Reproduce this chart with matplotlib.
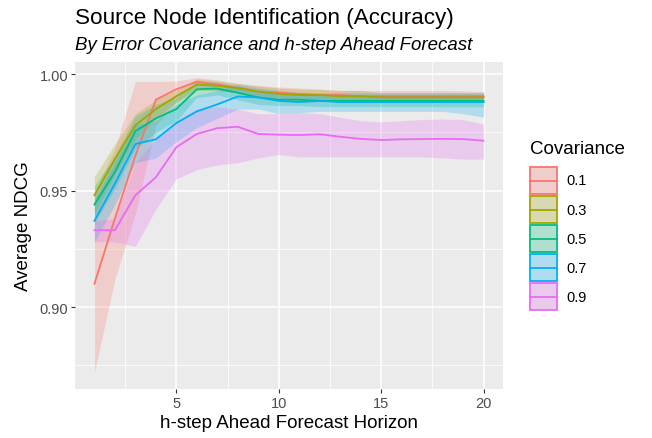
import numpy as np
import matplotlib
matplotlib.use('Agg')
from matplotlib import pyplot as plt
from matplotlib.patches import Rectangle
from matplotlib.lines import Line2D

plt.rcParams['font.family'] = ['Liberation Sans', 'DejaVu Sans']

h = list(range(1, 21))
covariance = ['0.1', '0.3', '0.5', '0.7', '0.9']
colors = ['#F8766D', '#A3A500', '#00BF7D', '#00B0F6', '#E76BF3']

mean_01 = [0.910, 0.938, 0.965, 0.989, 0.9935, 0.9967, 0.9955, 0.994, 0.9925, 0.992,
           0.9915, 0.991, 0.991, 0.9905, 0.9905, 0.9905, 0.9905, 0.9905, 0.9905, 0.9905]
low_01 = [0.872, 0.912, 0.940, 0.978, 0.988, 0.9945, 0.993, 0.992, 0.990, 0.9895,
          0.989, 0.989, 0.989, 0.9885, 0.9885, 0.9885, 0.9885, 0.9885, 0.9885, 0.9885]
up_01 = [0.949, 0.968, 0.9968, 0.9968, 0.997, 0.9985, 0.9975, 0.996, 0.995, 0.9945,
         0.994, 0.9935, 0.993, 0.993, 0.993, 0.993, 0.993, 0.993, 0.9928, 0.9925]

mean_03 = [0.948, 0.9635, 0.978, 0.985, 0.9905, 0.9955, 0.995, 0.994, 0.9925, 0.9915,
           0.991, 0.991, 0.9905, 0.9905, 0.990, 0.990, 0.990, 0.990, 0.990, 0.990]
low_03 = [0.940, 0.957, 0.972, 0.981, 0.988, 0.993, 0.993, 0.992, 0.990, 0.989,
          0.9885, 0.9885, 0.988, 0.988, 0.988, 0.988, 0.988, 0.988, 0.988, 0.988]
up_03 = [0.956, 0.970, 0.983, 0.989, 0.993, 0.998, 0.997, 0.996, 0.995, 0.994,
         0.9935, 0.9935, 0.993, 0.993, 0.992, 0.992, 0.992, 0.992, 0.992, 0.992]

mean_05 = [0.944, 0.958, 0.9755, 0.981, 0.985, 0.9935, 0.9938, 0.992, 0.990, 0.989,
           0.989, 0.9885, 0.9885, 0.9885, 0.9885, 0.9885, 0.9885, 0.9885, 0.9885, 0.9885]
low_05 = [0.936, 0.951, 0.968, 0.975, 0.980, 0.990, 0.991, 0.989, 0.987, 0.9865,
          0.9865, 0.986, 0.986, 0.986, 0.986, 0.986, 0.986, 0.986, 0.986, 0.986]
up_05 = [0.952, 0.965, 0.982, 0.987, 0.990, 0.997, 0.9965, 0.995, 0.993, 0.9915,
         0.9915, 0.991, 0.991, 0.991, 0.991, 0.991, 0.991, 0.991, 0.991, 0.991]

mean_07 = [0.937, 0.953, 0.970, 0.972, 0.979, 0.984, 0.987, 0.9904, 0.990, 0.9885,
           0.988, 0.9885, 0.988, 0.988, 0.988, 0.988, 0.988, 0.988, 0.988, 0.988]
low_07 = [0.928, 0.944, 0.962, 0.964, 0.971, 0.977, 0.981, 0.985, 0.985, 0.983,
          0.9835, 0.984, 0.984, 0.984, 0.984, 0.984, 0.984, 0.984, 0.983, 0.9815]
up_07 = [0.946, 0.962, 0.978, 0.980, 0.987, 0.991, 0.993, 0.9955, 0.994, 0.993,
         0.992, 0.992, 0.992, 0.992, 0.992, 0.992, 0.992, 0.992, 0.992, 0.992]

mean_09 = [0.933, 0.933, 0.948, 0.9557, 0.9686, 0.9743, 0.9768, 0.9774, 0.9743, 0.974,
           0.9738, 0.9742, 0.9731, 0.9722, 0.9717, 0.972, 0.9721, 0.9722, 0.9721, 0.9714]
low_09 = [0.928, 0.928, 0.926, 0.942, 0.955, 0.959, 0.961, 0.962, 0.964, 0.9655,
          0.9645, 0.9645, 0.9645, 0.9645, 0.9645, 0.9645, 0.9645, 0.964, 0.9635, 0.9635]
up_09 = [0.937, 0.938, 0.962, 0.972, 0.980, 0.985, 0.986, 0.985, 0.983, 0.983,
         0.9835, 0.983, 0.9815, 0.980, 0.9795, 0.980, 0.9805, 0.9807, 0.9805, 0.9785]

means = [mean_01, mean_03, mean_05, mean_07, mean_09]
lows = [low_01, low_03, low_05, low_07, low_09]
ups = [up_01, up_03, up_05, up_07, up_09]

fig = plt.figure(figsize=(6.52, 4.39), dpi=100)
ax = fig.add_axes([0.115, 0.1116, 0.6565, 0.7449])
ax.set_facecolor('#EBEBEB')

for m, lo, up, c in zip(means, lows, ups, colors):
    ax.fill_between(h, lo, up, color=c, alpha=0.25, lw=0, zorder=2)
for m, lo, up, c in zip(means, lows, ups, colors):
    ax.plot(h, m, color=c, lw=1.3, zorder=3)

ax.set_xlim(0.05, 20.95)
ax.set_ylim(0.8648, 1.0052)
ax.set_xticks([5, 10, 15, 20])
ax.set_xticks([2.5, 7.5, 12.5, 17.5], minor=True)
ax.set_yticks([0.90, 0.95, 1.00])
ax.set_yticks([0.875, 0.925, 0.975], minor=True)
ax.set_yticklabels(['0.90', '0.95', '1.00'])
ax.grid(which='major', color='white', lw=1.1, zorder=0)
ax.grid(which='minor', color='white', lw=0.55, zorder=0)
ax.set_axisbelow(True)
for s in ax.spines.values():
    s.set_visible(False)
ax.tick_params(which='major', length=3, color='#333333', labelcolor='#4D4D4D', labelsize=10.5, pad=2)
ax.tick_params(which='minor', length=0)

ax.set_xlabel('h-step Ahead Forecast Horizon', fontsize=13.5, labelpad=3)
ax.set_ylabel('Average NDCG', fontsize=13.5, labelpad=5)

fig.text(0.115, 0.958, 'Source Node Identification (Accuracy)', fontsize=16.2, va='center', ha='left')
fig.text(0.115, 0.897, 'By Error Covariance and h-step Ahead Forecast', fontsize=13.4,
         style='italic', va='center', ha='left')

# legend
fig.text(530 / 652, 1 - 150 / 439, 'Covariance', fontsize=13.5, va='center', ha='left')
for i, (lab, c) in enumerate(zip(covariance, colors)):
    yc = 181.5 + i * 29.1
    x0, y0 = 530 / 652, 1 - (yc + 13.5) / 439
    w, hh = 27 / 652, 27 / 439
    fig.patches.append(Rectangle((x0, y0), w, hh, transform=fig.transFigure,
                                 facecolor='#EBEBEB', edgecolor='none'))
    fig.patches.append(Rectangle((x0, y0), w, hh, transform=fig.transFigure,
                                 facecolor=c, alpha=0.25, edgecolor='none'))
    fig.patches.append(Rectangle((x0, y0), w, hh, transform=fig.transFigure,
                                 facecolor='none', edgecolor=c, lw=1.3))
    fig.lines.append(Line2D([x0, x0 + w], [1 - yc / 439, 1 - yc / 439],
                            transform=fig.transFigure, color=c, lw=1.3))
    fig.text(566 / 652, 1 - yc / 439, lab, fontsize=10.5, va='center', ha='left')

fig.savefig('out.png', dpi=100)
